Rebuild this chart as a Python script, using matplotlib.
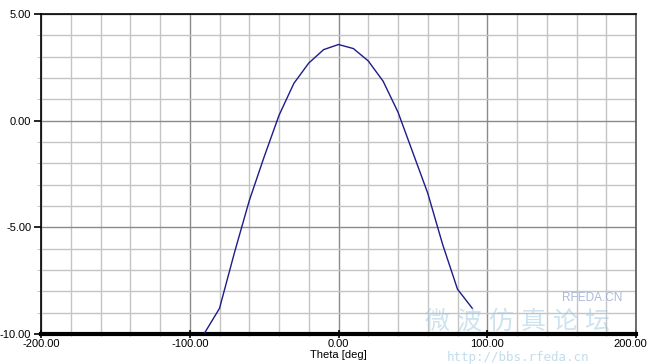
import matplotlib.pyplot as plt
import matplotlib.transforms as mtransforms
import numpy as np

plt.rcParams['font.family'] = ['Liberation Sans', 'Noto Sans CJK SC', 'DejaVu Sans']

# pattern cut, theta in degrees
theta = [-90, -80, -70, -60, -50, -40, -30, -20, -10, 0,
         10, 20, 30, 40, 50, 60, 70, 80, 90]
gain = [-9.95, -8.8, -6.2, -3.75, -1.7, 0.25, 1.75, 2.7, 3.33, 3.57,
        3.38, 2.8, 1.85, 0.4, -1.5, -3.4, -5.8, -7.9, -8.8]

xticks = [-200, -100, 0, 100, 200]
yticks = [-10, -5, 0, 5]
xlabel = "Theta [deg]"

fig = plt.figure(figsize=(6.47, 3.64), dpi=100)
ax = fig.add_axes([41/647, 1-334/364, 595/647, 320/364])

ax.plot(theta, gain, color='#1c1c8a', lw=1.0, zorder=5)

ax.set_xlim(-200, 200)
ax.set_ylim(-10, 5)
ax.set_xticks(xticks)
ax.set_yticks(yticks)
ax.set_xticks(np.arange(-200, 201, 20), minor=True)
ax.set_yticks(np.arange(-10, 5.1, 1), minor=True)
ax.set_xticklabels(["%.2f" % v for v in xticks])
ax.set_yticklabels(["%.2f" % v for v in yticks])

ax.grid(which='minor', color='#c4c4c4', lw=1.0)
ax.grid(which='major', color='#8a8a8a', lw=1.0)
ax.set_axisbelow(True)

for s in ['top', 'right', 'left']:
    ax.spines[s].set_color('black')
    ax.spines[s].set_linewidth(1.2)
ax.spines['right'].set_color('#555555')
ax.spines['bottom'].set_linewidth(3.0)

ax.tick_params(axis='both', which='major', labelsize=8, length=5, width=1.2, color='black', pad=2)
ax.tick_params(axis='y', which='minor', length=3, color='#bbbbbb')
ax.tick_params(axis='x', which='minor', length=3, direction='inout', color='#999999')
ax.tick_params(axis='x', which='major', direction='inout', length=6, pad=0.5)

# last x label sits against the right edge of the figure
last = ax.get_xticklabels()[-1]
last.set_transform(last.get_transform() + mtransforms.ScaledTranslation(-6/100, 0, fig.dpi_scale_trans))

ax.set_xlabel(xlabel, fontsize=8, va='top')
ax.xaxis.set_label_coords(0.5, -(350 - 334) / 320)

# watermark
fig.text(0.8, 1 - 322/364, "微 波 仿 真 论 坛", fontsize=18, color='#9cc8e0', alpha=0.5,
         ha='center', va='center', style='italic')
fig.text(0.80, 1 - 358/364, "http://bbs.rfeda.cn", fontsize=9, color='#a8cfe4', alpha=0.7,
         ha='center', va='center', family='DejaVu Sans Mono')
fig.text(0.915, 1 - 298/364, "RFEDA.CN", fontsize=8.5, color='#9aa8d0', alpha=0.8,
         ha='center', va='center')

fig.savefig("out.png", dpi=100)
